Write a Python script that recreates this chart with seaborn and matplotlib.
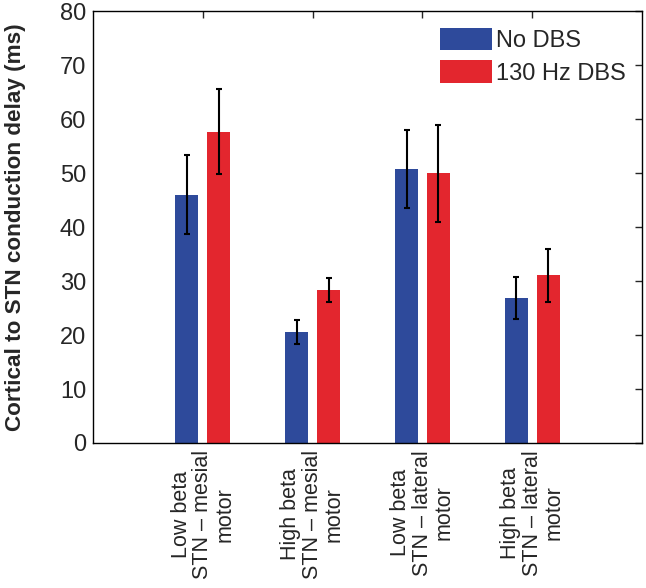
import numpy as np
import pandas as pd
import matplotlib
matplotlib.use("Agg")
import matplotlib.pyplot as plt
import seaborn as sns

# data
groups = ["Low beta\nSTN \u2013 mesial\nmotor", "High beta\nSTN \u2013 mesial\nmotor",
          "Low beta\nSTN \u2013 lateral\nmotor", "High beta\nSTN \u2013 lateral\nmotor"]
conditions = ["No DBS", "130 Hz DBS"]
no_dbs = [46.0, 20.6, 50.7, 26.9]
no_dbs_err = [7.3, 2.2, 7.2, 3.9]
dbs_130 = [57.7, 28.3, 50.0, 31.1]
dbs_130_err = [7.9, 2.2, 9.0, 4.9]

colors = ["#2E4A9B", "#E3262E"]

sns.set_style("white")
plt.rcParams["font.family"] = ["Liberation Sans", "DejaVu Sans"]

df = pd.DataFrame({
    "group": groups * 2,
    "condition": [conditions[0]] * 4 + [conditions[1]] * 4,
    "delay": no_dbs + dbs_130,
})
errs = no_dbs_err + dbs_130_err

fig = plt.figure(figsize=(6.46, 5.88), dpi=100)
ax = fig.add_axes([0.144, 0.2466, 0.85, 0.7344])

sns.barplot(data=df, x="group", y="delay", hue="condition", order=groups,
            hue_order=conditions, palette=colors, width=0.58, gap=0.28,
            errorbar=None, saturation=1, edgecolor="none", ax=ax)

# error bars at the centres of the drawn bars
bars = [p for p in ax.patches if p.get_height() > 0][:8]
for p, e in zip(bars, errs):
    xc = p.get_x() + p.get_width() / 2
    ax.errorbar(xc, p.get_height(), yerr=e, fmt="none", ecolor="black",
                elinewidth=1.5, capsize=2.3, capthick=1.5)

ax.set_xlim(-1, 4)
ax.set_ylim(0, 80)
ax.set_yticks(np.arange(0, 81, 10))
ax.set_xlabel("")
ax.set_ylabel("Cortical to STN conduction delay (ms)", fontsize=16.2,
              fontweight="bold")
ax.yaxis.set_label_coords(-0.122, 0.5)
ax.set_xticks(range(4))
ax.set_xticklabels(groups, rotation=90, fontsize=15.5, multialignment="center",
                   linespacing=1.05)
ax.tick_params(axis="y", labelsize=17, direction="in", length=5, right=True,
               width=1, pad=5)
ax.tick_params(axis="x", direction="in", length=5, top=True, width=1, pad=5)
for s in ax.spines.values():
    s.set_color("black")
    s.set_linewidth(1)

leg = ax.legend(loc="upper right", frameon=False, fontsize=17,
                handlelength=2.2, handleheight=1.1, handletextpad=0.15,
                labelspacing=0.35, borderaxespad=0.3)

fig.savefig("out.png", dpi=100)
